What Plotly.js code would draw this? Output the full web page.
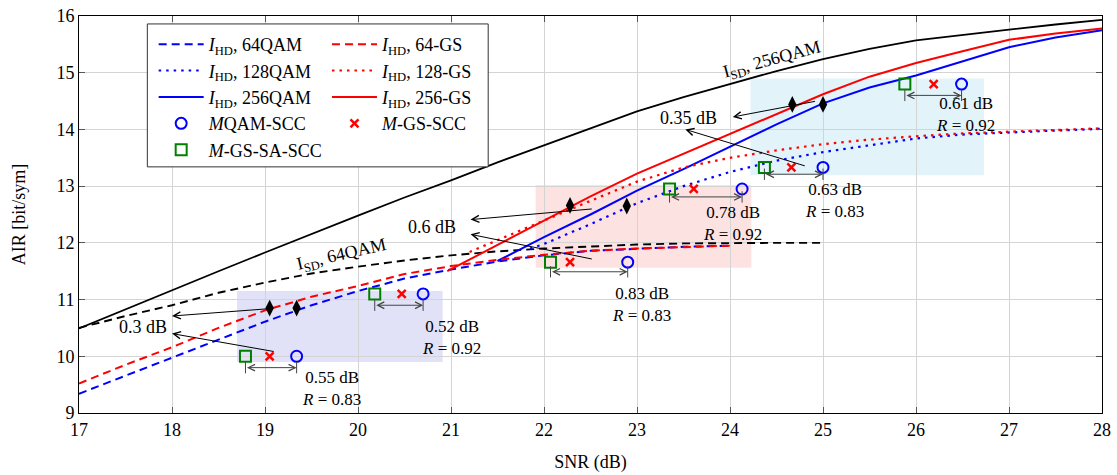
<!DOCTYPE html>
<html>
<head>
<meta charset="utf-8">
<script src="https://cdn.plot.ly/plotly-3.0.1.min.js"></script>
<style>html,body{margin:0;padding:0;background:#fff}#plot{width:1117px;height:475px}</style>
</head>
<body>
<div id="plot"></div>
<script>
// ---------- data ----------
// I_SD, 256QAM (black solid)
const snrISD256 = [17,17.5,18,18.5,19,19.5,20,20.5,21,21.5,22,22.5,23,23.5,24,24.5,25,25.5,26,26.5,27,27.5,28];
const airISD256 = [10.49,10.83,11.16,11.5,11.83,12.16,12.48,12.8,13.1,13.42,13.72,14.03,14.32,14.57,14.8,15.03,15.24,15.42,15.57,15.67,15.76,15.85,15.93];
// I_SD, 64QAM (black dashed)
const snrISD64 = [17,17.5,18,18.5,19,19.5,20,20.5,21,21.5,22,22.5,23,23.5,24,24.5,25];
const airISD64 = [10.5,10.71,10.9,11.12,11.3,11.46,11.58,11.69,11.78,11.85,11.9,11.94,11.97,11.99,12.0,12.0,12.0];
// I_HD, 64QAM (blue dashed) / 64-GS (red dashed)
const snrHD64 = [17,17.5,18,18.5,19,19.5,20,20.5,21,21.5,22,22.5,23,23.5,24];
const airHD64QAM = [9.34,9.66,9.97,10.3,10.61,10.9,11.15,11.37,11.53,11.67,11.78,11.86,11.9,11.93,11.95];
const airHD64GS  = [9.52,9.85,10.16,10.5,10.81,11.05,11.24,11.45,11.59,11.7,11.79,11.86,11.9,11.93,11.95];
// I_HD, 128QAM (blue dotted)
const snrHD128QAM = [21.85,22,22.5,23,23.5,24,24.5,25,25.5,26,26.5,27,27.5,28];
const airHD128QAM = [11.9,11.98,12.33,12.7,13.0,13.25,13.45,13.6,13.72,13.84,13.91,13.95,13.98,14.01];
// I_HD, 128-GS (red dotted)
const snrHD128GS = [21.2,21.5,22,22.5,23,23.5,24,24.5,25,25.5,26,26.5,27,27.5,28];
const airHD128GS = [11.84,12.05,12.4,12.74,13.08,13.33,13.5,13.63,13.74,13.82,13.88,13.93,13.96,13.99,14.02];
// I_HD, 256QAM (blue solid)
const snrHD256QAM = [21.5,22,22.5,23,23.5,24,24.5,25,25.5,26,26.5,27,27.5,28];
const airHD256QAM = [11.68,12.1,12.5,12.92,13.3,13.7,14.09,14.46,14.74,14.95,15.2,15.45,15.62,15.75];
// I_HD, 256-GS (red solid)
const snrHD256GS = [20.96,21.5,22,22.5,23,23.5,24,24.5,25,25.5,26,26.5,27,27.5,28];
const airHD256GS = [11.5,11.96,12.39,12.82,13.22,13.57,13.92,14.27,14.62,14.93,15.17,15.38,15.58,15.69,15.78];
// SCC points
const sccAIR   = [10.0,11.1,11.66,12.95,13.33,14.8];
const snrMQAM  = [19.34,20.7,22.9,24.13,25.0,26.49];
const snrMGS   = [19.05,20.47,22.28,23.61,24.66,26.19];
const snrMGSSA = [18.79,20.18,22.07,23.35,24.37,25.88];
// diamonds
const diamondSNR = [19.05,19.34,22.28,22.89,24.67,25.0];
const diamondAIR = [10.85,10.85,12.66,12.65,14.44,14.44];
// gain arrows (square -> circle) and their labels
const gainArrowAIR = [9.80,10.90,11.49,12.81,13.21,14.60];
const gainDB  = ["0.55 dB","0.52 dB","0.83 dB","0.78 dB","0.63 dB","0.61 dB"];
const gainR   = ["0.83","0.92","0.83","0.92","0.83","0.92"];
const gainLabelSNR = [19.71,21.01,23.05,24.03,25.12,26.53];
const gainLabelAIR = [9.44,10.325,10.915,12.335,12.75,14.255];
// loss arrows
const lossTailSNR = [19.05,19.11,22.53,22.53,24.93,24.82];
const lossTailAIR = [10.84,10.08,12.60,11.71,14.50,13.35];
const lossHeadSNR = [18.0,18.0,21.21,21.21,24.03,23.52];
const lossHeadAIR = [10.71,10.40,12.41,12.15,14.22,14.0];
const lossText = ["0.3 dB","0.6 dB","0.35 dB"];
const lossTextSNR = [17.69,20.80,23.55];
const lossTextAIR = [10.52,12.28,14.21];
// shaded regions
const regionSNR0 = [18.70,21.91,24.22];
const regionSNR1 = [20.91,24.23,26.73];
const regionAIR0 = [9.90,11.56,13.19];
const regionAIR1 = [11.15,13.02,14.90];
const regionColor = ["#e1e1f8","#fde2e2","#e2f3fa"];
// curve labels
const curveLabels = ["I<sub>SD</sub>, 256QAM","I<sub>SD</sub>, 64QAM"];
const curveLabelSNR = [24.45,19.82];
const curveLabelAIR = [15.22,11.78];
const curveLabelAngle = [-15,-13];

// ---------- styles ----------
const FONT = "Liberation Serif, Times New Roman, serif";
const BLUE = "#0000ff", RED = "#ff0000", GREEN = "#008000";
const DASH = "8px,5px", DOT = "2.5px,5px";
const TXT = 18;

const traces = [
  {x:snrISD256, y:airISD256, mode:'lines', line:{color:'black', width:1.8}, showlegend:false, hoverinfo:'skip'},
  {x:snrISD64, y:airISD64, mode:'lines', line:{color:'black', width:1.9, dash:DASH}, showlegend:false, hoverinfo:'skip'},
  {x:snrHD64, y:airHD64QAM, mode:'lines', name:'<i>I</i><sub>HD</sub>, 64QAM', line:{color:BLUE, width:2, dash:DASH}, legend:'legend'},
  {x:snrHD128QAM, y:airHD128QAM, mode:'lines', name:'<i>I</i><sub>HD</sub>, 128QAM', line:{color:BLUE, width:2.2, dash:DOT}, legend:'legend'},
  {x:snrHD256QAM, y:airHD256QAM, mode:'lines', name:'<i>I</i><sub>HD</sub>, 256QAM', line:{color:BLUE, width:2}, legend:'legend'},
  {x:snrHD64, y:airHD64GS, mode:'lines', name:'<i>I</i><sub>HD</sub>, 64-GS', line:{color:RED, width:2, dash:DASH}, legend:'legend2'},
  {x:snrHD128GS, y:airHD128GS, mode:'lines', name:'<i>I</i><sub>HD</sub>, 128-GS', line:{color:RED, width:2.2, dash:DOT}, legend:'legend2'},
  {x:snrHD256GS, y:airHD256GS, mode:'lines', name:'<i>I</i><sub>HD</sub>, 256-GS', line:{color:RED, width:2}, legend:'legend2'},
  {x:diamondSNR, y:diamondAIR, mode:'markers', marker:{symbol:'diamond-tall', size:12, color:'black'}, showlegend:false, hoverinfo:'skip'},
  {x:snrMQAM, y:sccAIR, mode:'markers', name:'<i>M</i>QAM-SCC', marker:{symbol:'circle-open', size:11, color:BLUE, line:{width:2, color:BLUE}}, legend:'legend'},
  {x:snrMGS, y:sccAIR, mode:'markers', name:'<i>M</i>-GS-SCC', marker:{symbol:'x-thin-open', size:8, color:RED, line:{width:2.5, color:RED}}, legend:'legend2'},
  {x:snrMGSSA, y:sccAIR, mode:'markers', name:'<i>M</i>-GS-SA-SCC', marker:{symbol:'square-open', size:11, color:GREEN, line:{width:2, color:GREEN}}, legend:'legend'}
];

const shapes = [];
for (let i=0;i<regionSNR0.length;i++){
  shapes.push({type:'rect', xref:'x', yref:'y', x0:regionSNR0[i], x1:regionSNR1[i], y0:regionAIR0[i], y1:regionAIR1[i],
    fillcolor:regionColor[i], line:{width:0}, layer:'below'});
}
for (let i=0;i<gainArrowAIR.length;i++){
  [snrMGSSA[i], snrMQAM[i]].forEach(xv=>{
    shapes.push({type:'line', xref:'x', yref:'y', x0:xv, x1:xv, y0:gainArrowAIR[i]-0.1, y1:gainArrowAIR[i]+0.1,
      line:{color:'#444', width:1}, layer:'above'});
  });
}
shapes.push({type:'rect', xref:'paper', yref:'paper', x0:0.0668, x1:0.400, y0:0.620, y1:0.980,
  fillcolor:'white', line:{color:'#333', width:1}, layer:'above'});

const annotations = [];
for (let i=0;i<lossTailSNR.length;i++){
  annotations.push({x:lossHeadSNR[i], y:lossHeadAIR[i], ax:lossTailSNR[i], ay:lossTailAIR[i],
    xref:'x', yref:'y', axref:'x', ayref:'y', text:'', showarrow:true,
    arrowhead:5, arrowsize:1.4, arrowwidth:1, arrowcolor:'black', standoff:0, startstandoff:0});
}
for (let i=0;i<gainArrowAIR.length;i++){
  annotations.push({x:snrMQAM[i], y:gainArrowAIR[i], ax:snrMGSSA[i], ay:gainArrowAIR[i],
    xref:'x', yref:'y', axref:'x', ayref:'y', text:'', showarrow:true, arrowside:'end+start',
    arrowhead:5, startarrowhead:5, arrowsize:1.3, startarrowsize:1.3, arrowwidth:1, arrowcolor:'#444', standoff:0, startstandoff:0});
  annotations.push({x:gainLabelSNR[i], y:gainLabelAIR[i], xref:'x', yref:'y',
    text:gainDB[i] + '<br><i>R</i> = ' + gainR[i], showarrow:false, align:'center',
    font:{family:FONT, size:17, color:'black'}, borderpad:0});
}
for (let i=0;i<lossText.length;i++){
  annotations.push({x:lossTextSNR[i], y:lossTextAIR[i], xref:'x', yref:'y', text:lossText[i], showarrow:false,
    font:{family:FONT, size:TXT, color:'black'}});
}
for (let i=0;i<curveLabels.length;i++){
  annotations.push({x:curveLabelSNR[i], y:curveLabelAIR[i], xref:'x', yref:'y', text:curveLabels[i], showarrow:false,
    textangle:curveLabelAngle[i], font:{family:FONT, size:TXT, color:'black'}});
}

const axisCommon = {
  showgrid:true, gridcolor:'#d4d4d4', gridwidth:1, zeroline:false,
  showline:true, linecolor:'black', linewidth:1, mirror:'ticks',
  ticks:'inside', ticklen:6, tickcolor:'#555', tickwidth:1,
  tickfont:{family:FONT, size:18, color:'black'}
};

const layout = {
  width:1117, height:475,
  margin:{l:79, r:15, t:16, b:62},
  paper_bgcolor:'white', plot_bgcolor:'white',
  xaxis:Object.assign({}, axisCommon, {range:[17,28], dtick:1, tick0:17,
    title:{text:'SNR (dB)', font:{family:FONT, size:18, color:'black'}, standoff:16}}),
  yaxis:Object.assign({}, axisCommon, {range:[9,16], dtick:1, tick0:9,
    title:{text:'AIR [bit/sym]', font:{family:FONT, size:18, color:'black'}, standoff:26}}),
  showlegend:true,
  legend:{x:0.073, y:0.975, xanchor:'left', yanchor:'top', bgcolor:'rgba(0,0,0,0)', borderwidth:0,
    font:{family:FONT, size:18, color:'black'}, itemwidth:45, traceorder:'normal'},
  legend2:{x:0.2424, y:0.975, xanchor:'left', yanchor:'top', bgcolor:'rgba(0,0,0,0)', borderwidth:0,
    font:{family:FONT, size:18, color:'black'}, itemwidth:45, traceorder:'normal'},
  shapes:shapes,
  annotations:annotations
};

Plotly.newPlot('plot', traces, layout, {staticPlot:true, displayModeBar:false});
</script>
</body>
</html>
